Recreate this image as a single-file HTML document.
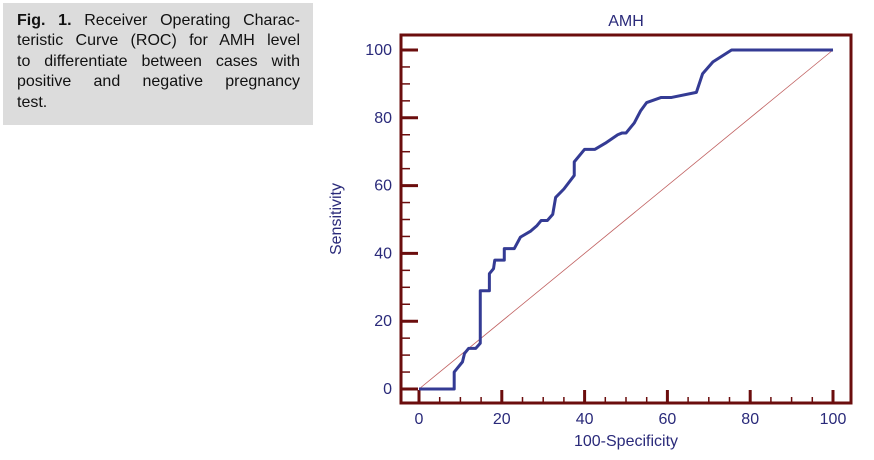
<!DOCTYPE html>
<html><head><meta charset="utf-8"><style>
body{margin:0;width:874px;height:460px;background:#fff;overflow:hidden;position:relative;font-family:"Liberation Sans",sans-serif}
#cap{position:absolute;left:3px;top:3px;width:310px;height:122px;background:#dcdcdc;box-sizing:border-box;padding:8px 13px 0 14px;font-family:"Liberation Sans",sans-serif;font-size:16px;line-height:20.4px;color:#111}
#cap div{text-align:justify;text-align-last:justify;white-space:nowrap}
#cap div.l{text-align-last:left}
svg{position:absolute;left:0;top:0}
</style></head><body>
<div id="cap"><div><b>Fig. 1.</b> Receiver Operating Charac-</div><div>teristic Curve (ROC) for AMH level</div><div>to differentiate between cases with</div><div>positive and negative pregnancy</div><div class="l">test.</div></div>
<svg id="c" width="874" height="460"></svg>
<script>
const fpr=[0,8.5,8.5,10.5,11,12,13.7,14.8,14.8,17,17,18,18.3,20.6,20.6,23,24.5,27,28.5,29.5,31,32.3,33,35,37.5,37.5,40,42.5,45,48,49,50,52,53.5,55,58.5,61,67,68.5,71,75.5,100];
const sens=[0,0,5,8,10.5,12,12,13.5,29,29,34,35.5,38,38,41.4,41.4,44.8,46.6,48.2,49.7,49.7,51.5,56.5,59,63,67,70.7,70.7,72.5,75,75.5,75.5,78.5,82,84.5,86,86,87.5,93,96.5,100,100];
const xTicks=[0,20,40,60,80,100];
const yTicks=[0,20,40,60,80,100];
const ns='http://www.w3.org/2000/svg',s=document.getElementById('c');
const X=v=>419+v*4.14, Y=v=>389-v*3.39;
function mk(t,a,p){const e=document.createElementNS(ns,t);for(const k in a)e.setAttribute(k,a[k]);(p||s).appendChild(e);return e;}
let f=mk('rect',{x:401,y:35,width:450,height:368,fill:'none',stroke:'#6b0d0d','stroke-width':3});


for(let v=0;v<=100;v+=5){const maj=v%20==0;
 let t=mk('line',{x1:401,x2:401+(maj?17:9),y1:Y(v),y2:Y(v),stroke:'#6b0d0d','stroke-width':maj?3:1.5});
 
 
 let u=mk('line',{x1:X(v),x2:X(v),y1:403,y2:403-(maj?13:6),stroke:'#6b0d0d','stroke-width':maj?3:1.5});
 
 }
xTicks.forEach(v=>{let t=mk('text',{x:X(v),y:424,'text-anchor':'middle','font-size':16,fill:'#2a2a7a'});t.textContent=v;
 
 });
yTicks.forEach(v=>{let t=mk('text',{x:392,y:Y(v)+5,'text-anchor':'end','font-size':16,fill:'#2a2a7a'});t.textContent=v;
 
 });
let d=mk('line',{x1:X(0),y1:Y(0),x2:X(100),y2:Y(100),stroke:'#c06060','stroke-width':0.8});


let p=mk('polyline',{points:fpr.map((v,i)=>X(v)+','+Y(sens[i])).join(' '),fill:'none',stroke:'#343b94','stroke-width':3,'stroke-linejoin':'round'});


let ti=mk('text',{x:626,y:26,'text-anchor':'middle','font-size':16,fill:'#2a2a7a'});ti.textContent='AMH';


let xl=mk('text',{x:626,y:446,'text-anchor':'middle','font-size':16,fill:'#2a2a7a'});xl.textContent='100-Specificity';


let yl=mk('text',{x:0,y:0,'text-anchor':'middle','font-size':16,fill:'#2a2a7a',transform:'translate(341,219) rotate(-90)'});yl.textContent='Sensitivity';


</script>
</body></html>
